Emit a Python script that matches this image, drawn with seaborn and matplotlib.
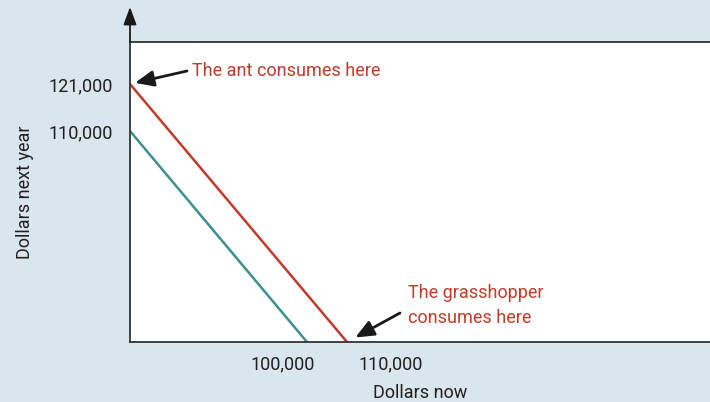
import numpy as np
import pandas as pd
import matplotlib
matplotlib.use("Agg")
import matplotlib.pyplot as plt
import matplotlib.transforms as mtransforms
import seaborn as sns

# Datos: dos rectas presupuestarias (dólares ahora vs. dólares el año próximo)
budget_names = ["base", "ahorro"]
dollars_now = [100000, 110000]          # corte con el eje x
dollars_next_year = [110000, 121000]    # corte con el eje y
x_tick_values = [100000, 110000]
x_tick_labels = ["100,000", "110,000"]
y_tick_values = [110000, 121000]
y_tick_labels = ["110,000", "121,000"]

RED = "#c23b2a"
TEAL = "#3b9090"
INK = "#231f20"
BG = "#dae6ee"

sns.set_theme(style="white")
plt.rcParams["font.family"] = ["Roboto", "DejaVu Sans"]

rows = []
for name, xn, yn in zip(budget_names, dollars_now, dollars_next_year):
    rows.append({"linea": name, "ahora": 0, "proximo": yn})
    rows.append({"linea": name, "ahora": xn, "proximo": 0})
df = pd.DataFrame(rows)

fig = plt.figure(figsize=(7.1, 4.025), dpi=100, facecolor=BG)
ax = fig.add_axes([130 / 710, 60 / 402.5, 580 / 710, 300 / 402.5])
ax.set_facecolor("white")

# el dibujo original no está a escala: escala lineal por tramos
xs_nodes = [0, 100000, 110000, 300000]
xs_pix = [0, 177, 217, 580]
ys_nodes = [0, 110000, 121000, 160000]
ys_pix = [0, 211, 258, 300]
ax.set_xscale("function", functions=(lambda v: np.interp(v, xs_nodes, xs_pix),
                                     lambda p: np.interp(p, xs_pix, xs_nodes)))
ax.set_yscale("function", functions=(lambda v: np.interp(v, ys_nodes, ys_pix),
                                     lambda p: np.interp(p, ys_pix, ys_nodes)))

sns.lineplot(data=df, x="ahora", y="proximo", hue="linea",
             palette={"base": TEAL, "ahorro": RED}, linewidth=1.8,
             legend=False, ax=ax, estimator=None, sort=False)

ax.set_xlim(0, 300000)
ax.set_ylim(0, 160000)

for side in ["left", "bottom", "top"]:
    ax.spines[side].set_color("#333333")
    ax.spines[side].set_linewidth(1.3)
ax.spines["right"].set_visible(False)

ax.set_xticks(x_tick_values)
ax.set_xticklabels(x_tick_labels)
ax.set_yticks(y_tick_values)
ax.set_yticklabels(y_tick_labels)
ax.tick_params(axis="both", length=0, labelsize=13, colors=INK)
ax.tick_params(axis="x", pad=9)
ax.tick_params(axis="y", pad=12)
ax.minorticks_off()

xl = ax.get_xticklabels()
xl[0].set_horizontalalignment("right")
xl[0].set_transform(xl[0].get_transform() + mtransforms.ScaledTranslation(8 / 100, 0, fig.dpi_scale_trans))
xl[1].set_horizontalalignment("left")
xl[1].set_transform(xl[1].get_transform() + mtransforms.ScaledTranslation(11 / 100, 0, fig.dpi_scale_trans))

ax.set_xlabel("Dollars now", fontsize=13, color=INK, labelpad=8)
ax.set_ylabel("Dollars next year", fontsize=13, color=INK, labelpad=11)

# flecha del eje vertical
ax.annotate("", xy=(0, 1.117), xycoords="axes fraction", xytext=(0, 1.0),
            arrowprops=dict(arrowstyle="-|>,head_length=0.6,head_width=0.22",
                            color="#1a1a1a", lw=1.3, shrinkA=0, shrinkB=0,
                            mutation_scale=18), annotation_clip=False)

arrow_kw = dict(arrowstyle="-|>,head_length=0.7,head_width=0.3", color="#1a1a1a",
                lw=2.0, shrinkA=0, mutation_scale=16)

# el consumo de la hormiga
ant = (0, dollars_next_year[1])
ax.annotate("", xy=ant, xytext=(57, 13), textcoords="offset pixels",
            arrowprops=dict(arrow_kw, shrinkB=3.7), annotation_clip=False)
ax.annotate("The ant consumes here", xy=ant, xytext=(62, 14), textcoords="offset pixels",
            ha="left", va="center", fontsize=13, color=RED, annotation_clip=False)

# el consumo del saltamontes
hopper = (dollars_now[1], 0)
ax.annotate("", xy=hopper, xytext=(53, 29), textcoords="offset pixels",
            arrowprops=dict(arrow_kw, shrinkB=6.8), annotation_clip=False)
ax.annotate("The grasshopper\nconsumes here", xy=hopper, xytext=(61, 37),
            textcoords="offset pixels", ha="left", va="center", fontsize=13,
            color=RED, linespacing=1.45, annotation_clip=False)

fig.savefig("out.png", dpi=100, facecolor=BG)
